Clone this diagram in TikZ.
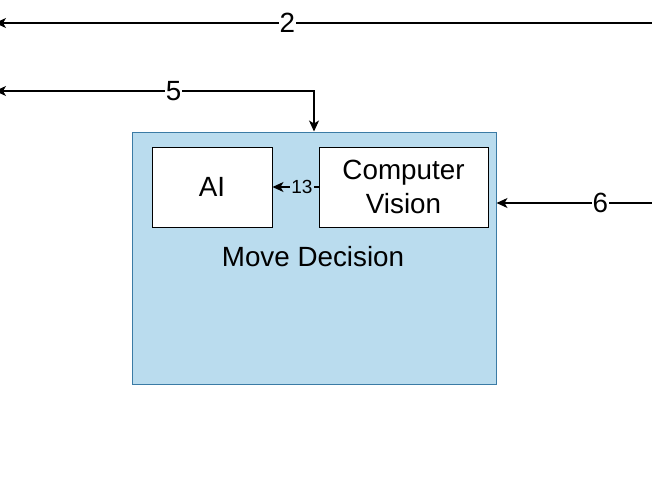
\documentclass[tikz,border=0pt]{standalone}
\usepackage{fontspec}
\setmainfont{Liberation Sans}
\usetikzlibrary{arrows.meta}
\definecolor{mdfill}{HTML}{BADCEE}
\definecolor{mdline}{HTML}{3B7BA5}

\begin{document}
\begin{tikzpicture}[x=1pt, y=-1pt,
		box/.style={draw=black, fill=white, line width=1pt, minimum height=80pt, inner sep=0pt, align=center, font=\fontsize{27.8}{34}\selectfont},
		link/.style={line width=1.1pt, -{Stealth[length=11pt, width=10pt, inset=3pt]}},
		tag/.style={fill=white, inner sep=1pt, font=\fontsize{27.8}{34}\selectfont}]
		\useasboundingbox (0,0) rectangle (652,482);
		\node[draw=mdline, fill=mdfill, line width=1pt, minimum width=364pt, minimum height=252pt, inner sep=0pt] (md) at (314,258) {};
		\node[box, minimum width=120pt] (ai) at (212,187) {AI};
		\node[box, minimum width=169pt] (cv) at (403.5,187) {Computer\\Vision};
		\node[font=\fontsize{27.8}{34}\selectfont] (mdname) at (313,257) {Move Decision};
		\coordinate (l2) at (-5,23);
		\coordinate (r2) at (652,23);
		\coordinate (l5) at (-5,91);
		\coordinate (r6) at (652,203);
		\draw[link] (r2) -- node[tag, pos=0.555] {2} (l2);
		\draw[link, {Stealth[length=11pt, width=10pt, inset=3pt]}-{Stealth[length=11pt, width=10pt, inset=3pt]}] (l5) -- node[tag, pos=0.56] {5} (md.north |- l5) -- (md.north);
		\draw[link] (r6) -- node[tag, pos=0.333] {6} (md.east |- r6);
		\draw[link] (cv.west) -- node[tag, fill=mdfill, pos=0.36, font=\fontsize{19}{22}\selectfont] {13} (ai.east);
	\end{tikzpicture}
\end{document}
